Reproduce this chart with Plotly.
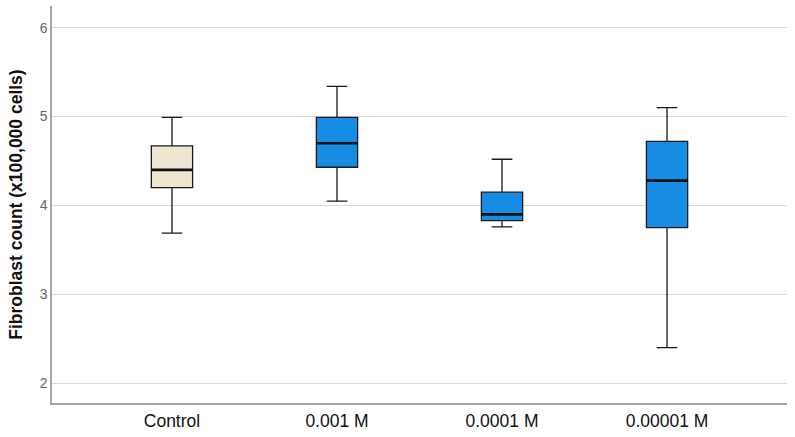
"""Box plot of fibroblast counts by treatment concentration."""

import plotly.graph_objects as go

# Five-number summaries (x100,000 cells)
groups = ["Control", "0.001 M", "0.0001 M", "0.00001 M"]
lower_whisker = [3.69, 4.05, 3.76, 2.40]
q1 = [4.20, 4.43, 3.83, 3.75]
median = [4.40, 4.70, 3.90, 4.28]
q3 = [4.67, 4.99, 4.15, 4.72]
upper_whisker = [4.99, 5.34, 4.52, 5.10]
fill_colors = ["#EFE6D1", "#168DE2", "#168DE2", "#168DE2"]

fig = go.Figure()

for i, name in enumerate(groups):
    fig.add_trace(
        go.Box(
            x=[name],
            q1=[q1[i]],
            median=[median[i]],
            q3=[q3[i]],
            lowerfence=[lower_whisker[i]],
            upperfence=[upper_whisker[i]],
            name=name,
            width=0.25,
            whiskerwidth=0.5,
            fillcolor=fill_colors[i],
            line={"color": "#1a1a1a", "width": 1.3},
            boxpoints=False,
            hoverinfo="y",
        )
    )
    # heavier median bar on top (collapsed box at the median)
    fig.add_trace(
        go.Box(
            x=[name],
            q1=[median[i]],
            median=[median[i]],
            q3=[median[i]],
            lowerfence=[median[i]],
            upperfence=[median[i]],
            name=name,
            width=0.25,
            whiskerwidth=0,
            fillcolor="rgba(0,0,0,0)",
            line={"color": "#111111", "width": 2.6},
            boxpoints=False,
            hoverinfo="skip",
        )
    )

fig.update_layout(
    width=795,
    height=437,
    margin={"l": 52, "r": 8, "t": 6, "b": 24},
    paper_bgcolor="white",
    plot_bgcolor="white",
    showlegend=False,
    boxmode="overlay",
    font={"family": "Liberation Sans, Arial, sans-serif", "color": "#222"},
)

fig.update_xaxes(
    type="category",
    categoryorder="array",
    categoryarray=groups,
    range=[-0.727, 3.727],
    showline=True,
    linecolor="#a6a6a6",
    linewidth=1.5,
    showgrid=False,
    ticks="",
    ticklabelstandoff=1,
    tickfont={"size": 17.5, "color": "#111"},
)

fig.update_yaxes(
    range=[1.778, 6.244],
    tickvals=[2, 3, 4, 5, 6],
    showline=True,
    linecolor="#a6a6a6",
    linewidth=1.5,
    showgrid=True,
    gridcolor="#d9d9d9",
    gridwidth=1.3,
    zeroline=False,
    ticks="",
    tickfont={"size": 14, "color": "#666666"},
    title={
        "text": "<b>Fibroblast count (x100,000 cells)</b>",
        "font": {"size": 17.5, "color": "#111"},
        "standoff": 13,
    },
)

# drop the browser's default body margin so the figure sits at the page origin
fig.write_html(
    "out.html",
    config={"displayModeBar": False},
    post_script="document.body.style.margin='0';",
)
